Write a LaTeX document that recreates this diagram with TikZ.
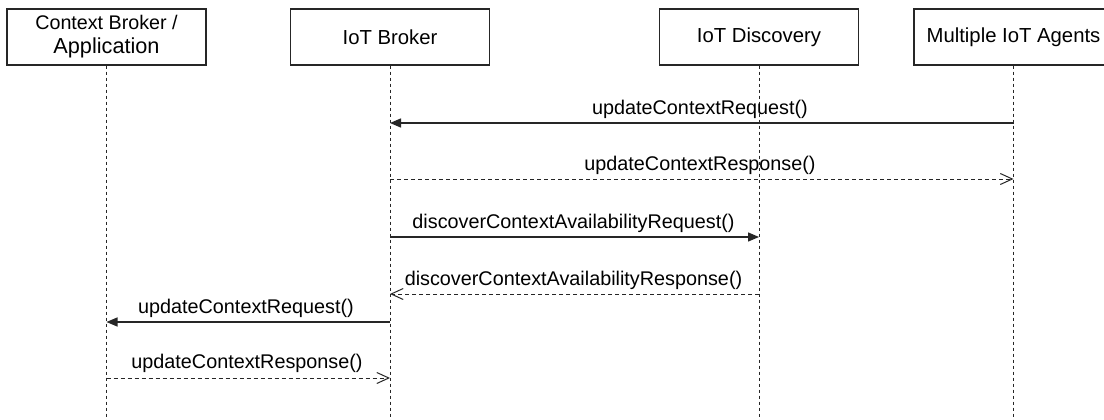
\documentclass[tikz,border=0pt]{standalone}
\usepackage{fontspec}
\setmainfont{Liberation Sans}
\usetikzlibrary{arrows.meta}
\begin{document}
\begin{tikzpicture}[x=1pt,y=-1pt,
  actor/.style={draw=black!85, line width=1.2pt, minimum width=199pt, minimum height=56pt, inner sep=0pt, align=center, font=\fontsize{20.3}{24}\selectfont},
  life/.style={draw=black!85, line width=1pt, dash pattern=on 3pt off 3pt},
  callmsg/.style={draw=black!85, line width=1.3pt, -{Triangle[length=11pt,width=9pt]}},
  retmsg/.style={draw=black!85, line width=1pt, dash pattern=on 4pt off 3pt, -{Straight Barb[length=12pt,width=11pt,line width=1pt]}},
  lbl/.style={anchor=base, inner sep=0pt, font=\fontsize{19.8}{24}\selectfont}]
\useasboundingbox (0,0) rectangle (1104,420);
\clip (0,0) rectangle (1104,420);
\fill[white] (0,0) rectangle (1104,420);

\node[actor] (cb) at (106.5,37) {{\fontsize{19.7}{24}\selectfont Context Broker /}\\{\fontsize{21.7}{24}\selectfont Application}};
\node[actor] (ib) at (390,37) {IoT Broker};
\node[actor] (id) at (759,37) {IoT Discovery};
\node[actor] (ag) at (1013.5,37) {Multiple IoT Agents};

\coordinate (cbb) at (106.5,420);
\coordinate (ibb) at (390,420);
\coordinate (idb) at (759,420);
\coordinate (agb) at (1013.5,420);
\draw[life] (cb.south) -- (cbb);
\draw[life] (ib.south) -- (ibb);
\draw[life] (id.south) -- (idb);
\draw[life] (ag.south) -- (agb);

% message end points on lifelines
\coordinate (m1a) at (1013.5,123); \coordinate (m1b) at (390,123);
\coordinate (m2a) at (390,179);    \coordinate (m2b) at (1013.5,179);
\coordinate (m3a) at (390,237);    \coordinate (m3b) at (759,237);
\coordinate (m4a) at (759,294);    \coordinate (m4b) at (390,294);
\coordinate (m5a) at (390,322);    \coordinate (m5b) at (106.5,322);
\coordinate (m6a) at (106.5,378);  \coordinate (m6b) at (390,378);

\draw[callmsg] (m1a) -- (m1b);
\draw[retmsg]  (m2a) -- (m2b);
\draw[callmsg] (m3a) -- (m3b);
\draw[retmsg]  (m4a) -- (m4b);
\draw[callmsg] (m5a) -- (m5b);
\draw[retmsg]  (m6a) -- (m6b);

\node[lbl] (l1) at (700,114) {updateContextRequest()};
\node[lbl] (l2) at (700,170) {updateContextResponse()};
\node[lbl] (l3) at (573.5,228) {discoverContextAvailabilityRequest()};
\node[lbl] (l4) at (573.5,285) {discoverContextAvailabilityResponse()};
\node[lbl] (l5) at (246,313) {updateContextRequest()};
\node[lbl] (l6) at (247,368.5) {updateContextResponse()};
\end{tikzpicture}
\end{document}
